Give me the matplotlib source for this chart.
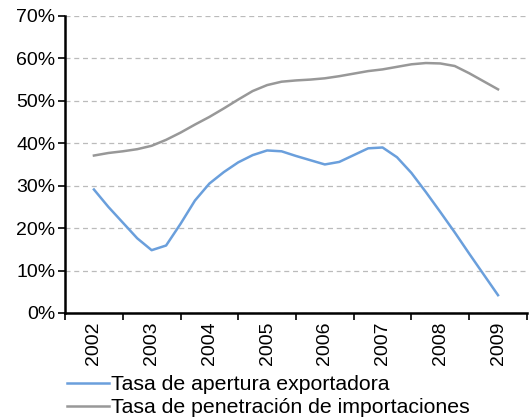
import matplotlib
matplotlib.use("Agg")
import matplotlib.pyplot as plt
from matplotlib.ticker import FixedLocator, PercentFormatter

plt.rcParams['font.family'] = ['Liberation Sans', 'DejaVu Sans']

years = [2002, 2003, 2004, 2005, 2006, 2007, 2008, 2009]
year_labels = ["2002", "2003", "2004", "2005", "2006", "2007", "2008", "2009"]

# quarterly positions (year fractions)
periods = [2002.00, 2002.25, 2002.50, 2002.75,
           2003.00, 2003.25, 2003.50, 2003.75,
           2004.00, 2004.25, 2004.50, 2004.75,
           2005.00, 2005.25, 2005.50, 2005.75,
           2006.00, 2006.25, 2006.50, 2006.75,
           2007.00, 2007.25, 2007.50, 2007.75,
           2008.00, 2008.25, 2008.50, 2008.75,
           2009.00]

apertura = [29.1, 25.0, 21.3, 17.6,
            14.8, 15.9, 21.0, 26.5,
            30.5, 33.2, 35.5, 37.2,
            38.3, 38.1, 37.0, 36.0,
            35.0, 35.6, 37.2, 38.8,
            39.0, 36.7, 33.0, 28.5,
            23.8, 19.0, 14.0, 9.1,
            4.2]

penetracion = [37.1, 37.7, 38.1, 38.6,
               39.4, 40.8, 42.5, 44.4,
               46.2, 48.2, 50.3, 52.3,
               53.7, 54.5, 54.8, 55.0,
               55.3, 55.8, 56.4, 57.0,
               57.4, 58.0, 58.6, 58.9,
               58.8, 58.2, 56.5, 54.6,
               52.7]

series_names = ["Tasa de apertura exportadora",
                "Tasa de penetración de importaciones"]

fig = plt.figure(figsize=(5.29, 4.19), dpi=100)
ax = fig.add_axes([0.123, 0.253, 0.873, 0.709])

ax.plot(periods, apertura, color="#6A9FDC", lw=1.8, label=series_names[0])
ax.plot(periods, penetracion, color="#989898", lw=1.8, label=series_names[1])

ax.set_xlim(2001.5, 2009.5)
ax.set_ylim(0, 70)
ax.set_yticks(range(0, 71, 10))
ax.yaxis.set_major_formatter(PercentFormatter(decimals=0))

ax.xaxis.set_major_locator(FixedLocator([y - 0.5 for y in years] + [2009.5]))
ax.xaxis.set_major_formatter(plt.NullFormatter())
ax.xaxis.set_minor_locator(FixedLocator(years))
ax.set_xticklabels(year_labels, minor=True, rotation=90)
ax.tick_params(axis='x', which='minor', length=0, labelsize=14, pad=6)
ax.tick_params(axis='x', which='major', length=5, width=1.2, direction='out')
ax.tick_params(axis='y', length=5, width=1.2, labelsize=14, pad=2)

ax.grid(axis='y', color="#BBBBBB", linestyle=(0, (4, 3)), lw=0.9)
ax.set_axisbelow(True)
for s in ['top', 'right']:
    ax.spines[s].set_visible(False)
for s in ['left', 'bottom']:
    ax.spines[s].set_linewidth(1.8)
    ax.spines[s].set_color('black')

fig.legend(loc='upper left', bbox_to_anchor=(0.127, 0.104), frameon=False,
           fontsize=15.3, handlelength=1.95, handletextpad=0.1, labelspacing=0.18,
           borderpad=0, borderaxespad=0)

fig.savefig("out.png", dpi=100)
